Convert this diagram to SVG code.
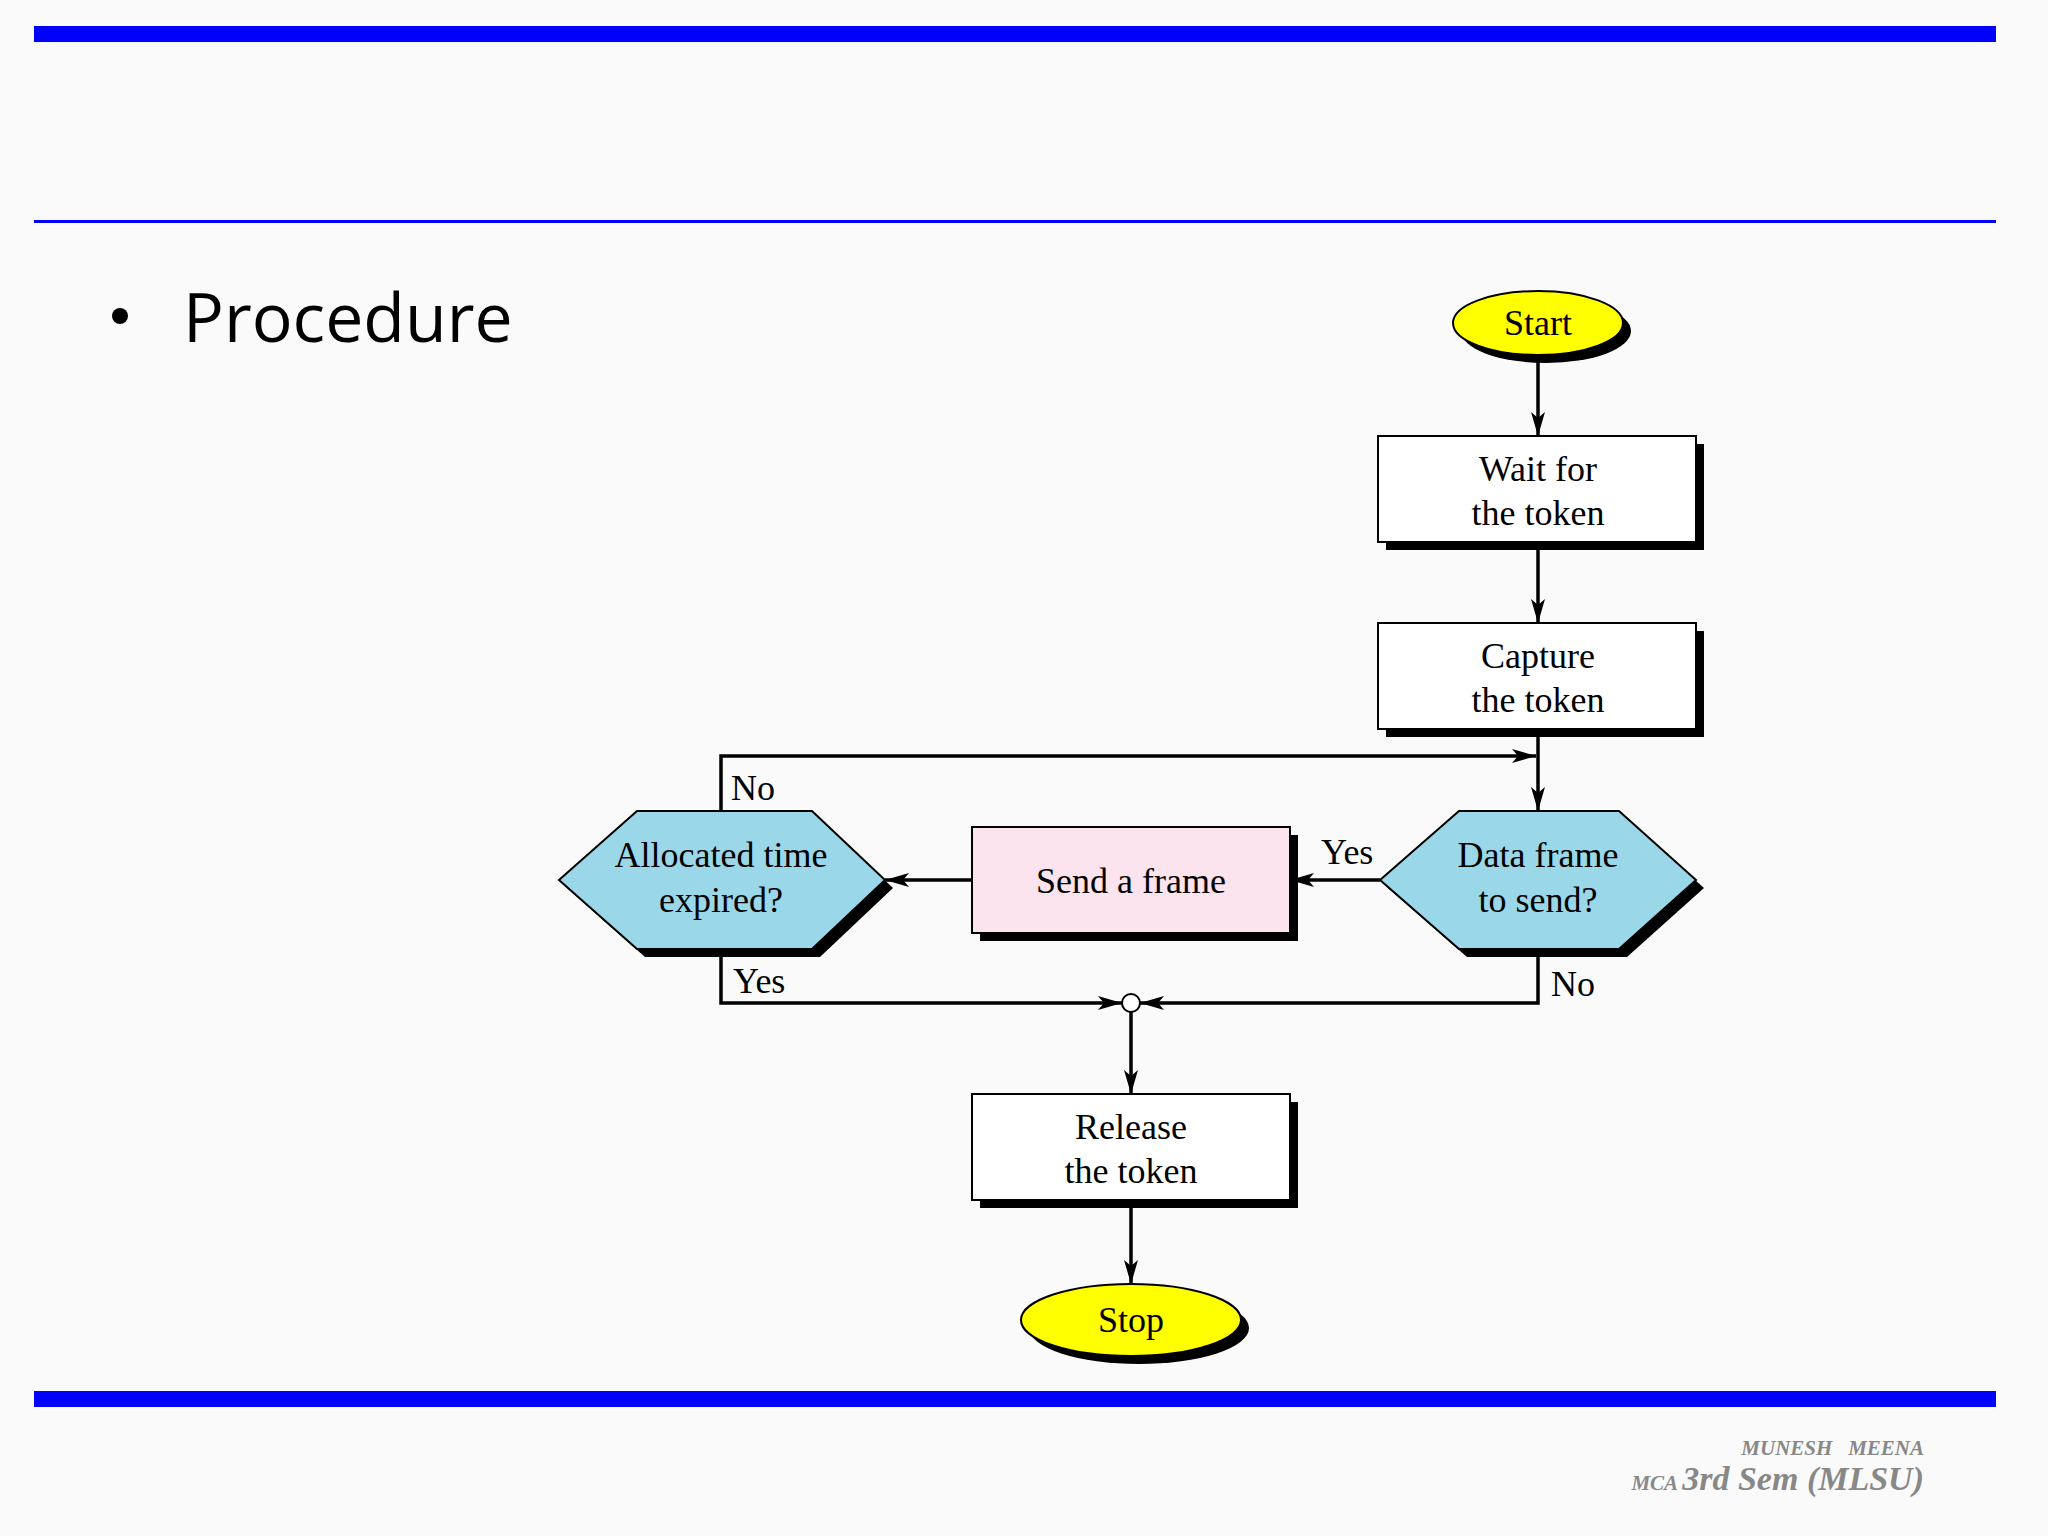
<svg xmlns="http://www.w3.org/2000/svg" width="2048" height="1536" viewBox="0 0 2048 1536">
<defs>
<marker id="ah" viewBox="0 0 24 14" refX="24" refY="7" markerWidth="24" markerHeight="14" markerUnits="userSpaceOnUse" orient="auto"><path d="M0,0 L24,7 L0,14 L6,7 Z" fill="#000"/></marker>
</defs>
<style>
.t{font-family:"Liberation Serif",serif;font-size:36px;fill:#000;text-anchor:middle}
.l{font-family:"Liberation Serif",serif;font-size:36px;fill:#000}
.b{fill:#fff;stroke:#000;stroke-width:2}
.s{fill:#000}
.c{fill:none;stroke:#000;stroke-width:3.5}
</style>
<rect width="2048" height="1536" fill="#fafafa"/>
<rect x="34" y="26" width="1962" height="16" fill="#0000ff"/>
<rect x="34" y="220" width="1962" height="3" fill="#0000ff"/>
<rect x="34" y="1391" width="1962" height="16" fill="#0000ff"/>
<circle cx="120" cy="316" r="8" fill="#000"/>
<text x="183" y="342" font-family="'Open Sans','Noto Sans',sans-serif" font-size="68" fill="#000">Procedure</text>
<g font-family="'Liberation Serif',serif" font-style="italic" font-weight="bold" fill="#888" text-anchor="end">
<text x="1924" y="1455" font-size="21" xml:space="preserve">MUNESH   MEENA</text>
<text x="1924" y="1490" font-size="34"><tspan font-size="21">MCA </tspan>3rd Sem (MLSU)</text>
</g>
<g id="start"><ellipse cx="1546" cy="331" rx="85" ry="32" class="s"/><ellipse cx="1538" cy="323" rx="85" ry="32" fill="#ffff00" stroke="#000" stroke-width="2"/><text x="1538" y="335" class="t">Start</text></g>
<g id="wait"><rect x="1386" y="444" width="318" height="106" class="s"/><rect x="1378" y="436" width="318" height="106" class="b"/><text x="1538" y="481" class="t">Wait for</text><text x="1538" y="525" class="t">the token</text></g>
<g id="capture"><rect x="1386" y="631" width="318" height="106" class="s"/><rect x="1378" y="623" width="318" height="106" class="b"/><text x="1538" y="668" class="t">Capture</text><text x="1538" y="712" class="t">the token</text></g>
<g id="data"><polygon points="1388,888 1467,819 1627,819 1704,888 1627,957 1467,957" class="s"/><polygon points="1380,880 1459,811 1619,811 1696,880 1619,949 1459,949" fill="#9ad7e8" stroke="#000" stroke-width="2"/><text x="1538" y="867" class="t">Data frame</text><text x="1538" y="912" class="t">to send?</text></g>
<g id="send"><rect x="980" y="835" width="318" height="106" class="s"/><rect x="972" y="827" width="318" height="106" fill="#fce4ee" stroke="#000" stroke-width="2"/><text x="1131" y="893" class="t">Send a frame</text></g>
<g id="alloc"><polygon points="567,888 645,819 820,819 893,888 820,957 645,957" class="s"/><polygon points="559,880 637,811 812,811 885,880 812,949 637,949" fill="#9ad7e8" stroke="#000" stroke-width="2"/><text x="721" y="867" class="t">Allocated time</text><text x="721" y="912" class="t">expired?</text></g>
<g id="release"><rect x="980" y="1102" width="318" height="106" class="s"/><rect x="972" y="1094" width="318" height="106" class="b"/><text x="1131" y="1139" class="t">Release</text><text x="1131" y="1183" class="t">the token</text></g>
<g id="stop"><ellipse cx="1139" cy="1328" rx="110" ry="36" class="s"/><ellipse cx="1131" cy="1320" rx="110" ry="36" fill="#ffff00" stroke="#000" stroke-width="2"/><text x="1131" y="1332" class="t">Stop</text></g>
<g id="connectors">
<path d="M1538,355 V436" class="c" marker-end="url(#ah)"/>
<path d="M1538,542 V623" class="c" marker-end="url(#ah)"/>
<path d="M1538,729 V811" class="c" marker-end="url(#ah)"/>
<path d="M721,811 V756 H1536" class="c" marker-end="url(#ah)"/>
<path d="M1380,880 H1290" class="c" marker-end="url(#ah)"/>
<path d="M972,880 H885" class="c" marker-end="url(#ah)"/>
<path d="M721,949 V1003 H1122" class="c" marker-end="url(#ah)"/>
<path d="M1538,949 V1003 H1140" class="c" marker-end="url(#ah)"/>
<circle cx="1131" cy="1003" r="9" fill="#fff" stroke="#000" stroke-width="2"/>
<path d="M1131,1012 V1094" class="c" marker-end="url(#ah)"/>
<path d="M1131,1200 V1284" class="c" marker-end="url(#ah)"/>
<text x="731" y="800" class="l">No</text>
<text x="1321" y="864" class="l">Yes</text>
<text x="733" y="993" class="l">Yes</text>
<text x="1551" y="996" class="l">No</text>
</g>
</svg>
